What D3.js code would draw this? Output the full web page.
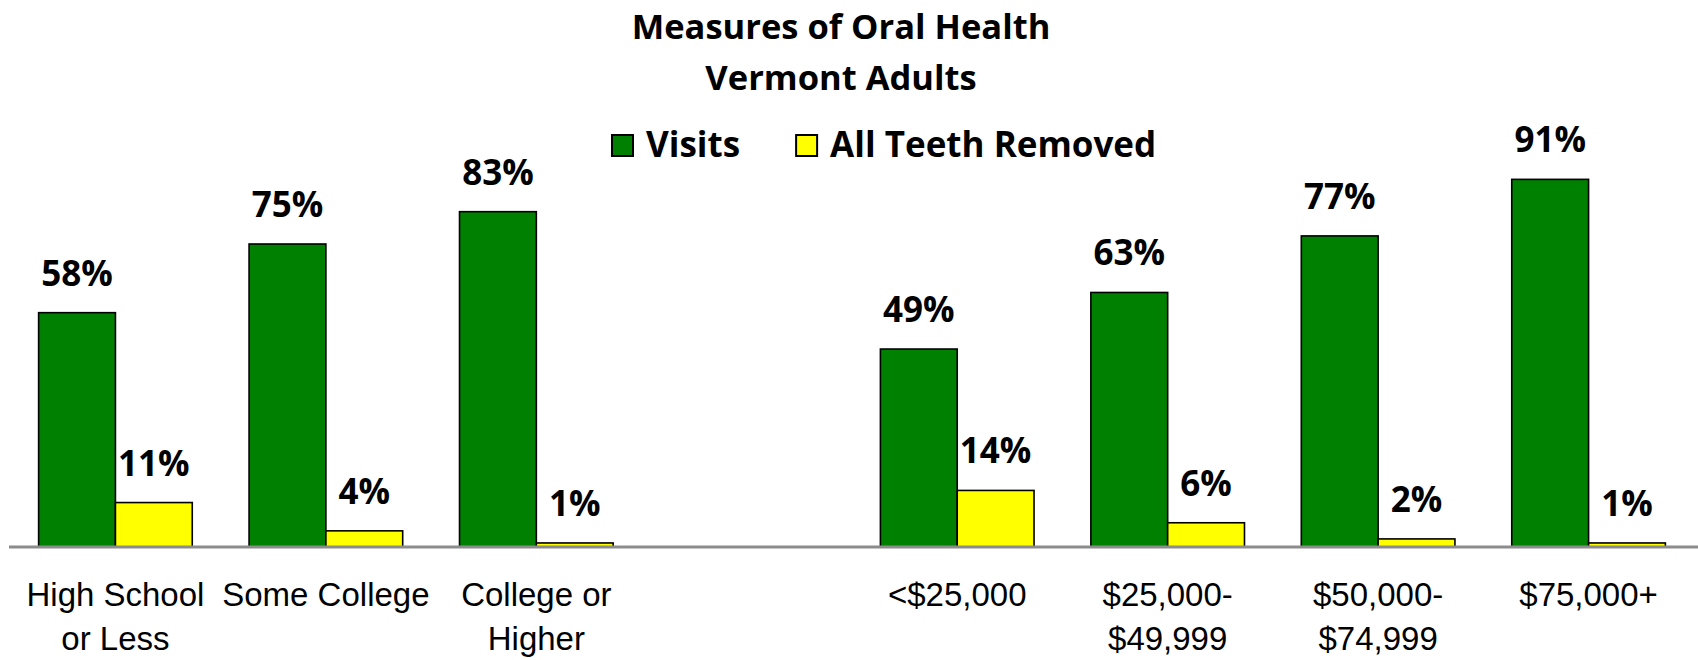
<!DOCTYPE html>
<html>
<head>
<meta charset="utf-8">
<script src="https://cdn.jsdelivr.net/npm/d3@7"></script>
<style>
  body { margin: 0; background: #fff; }
  svg { display: block; font-family: Lato, "Open Sans", sans-serif; }
  .bold { font-family: "Open Sans", Lato, sans-serif; font-weight: bold; }
</style>
</head>
<body>
<div id="target_area"></div>
<script>
// chart data
var titleLines = ["Measures of Oral Health", "Vermont Adults"];
var categories = ["hs", "some", "college", "gap", "inc1", "inc2", "inc3", "inc4"];
var tickLabels = [["High School", "or Less"], ["Some College"], ["College or", "Higher"], [],
                  ["<$25,000"], ["$25,000-", "$49,999"], ["$50,000-", "$74,999"], ["$75,000+"]];
var seriesNames = ["Visits", "All Teeth Removed"];
var seriesColors = ["#008000", "#ffff00"];
var visits = [58, 75, 83, null, 49, 63, 77, 91];
var teethRemoved = [11, 4, 1, null, 14, 6, 2, 1];

var width = 1698, height = 660;
var baseY = 547;

var svg = d3.select("#target_area")
  .append("svg")
  .attr("width", width)
  .attr("height", height);

var x0 = d3.scaleBand()
  .domain(categories)
  .range([6, width])
  .paddingInner(0.27)
  .paddingOuter(0.155);

var x1 = d3.scaleBand()
  .domain(seriesNames)
  .range([0, x0.bandwidth()]);

var y = d3.scaleLinear()
  .domain([0, 100])
  .range([baseY, baseY - 404]);

// title
svg.append("g").selectAll("text")
  .data(titleLines)
  .enter().append("text")
  .attr("class", "bold")
  .attr("x", 841)
  .attr("y", function (d, i) { return 39 + i * 51; })
  .attr("text-anchor", "middle")
  .style("font-size", "34.5px")
  .text(function (d) { return d; });

// bars
var rows = categories.map(function (c, i) {
  return {cat: c, values: [visits[i], teethRemoved[i]]};
}).filter(function (r) { return r.values[0] != null; });

var groups = svg.selectAll(".grp")
  .data(rows)
  .enter().append("g")
  .attr("class", "grp")
  .attr("transform", function (d) { return "translate(" + x0(d.cat) + ",0)"; });

var cells = groups.selectAll(".bar")
  .data(function (d) {
    return d.values.map(function (v, j) { return {name: seriesNames[j], value: v, color: seriesColors[j]}; });
  })
  .enter().append("g")
  .attr("class", "bar");

cells.append("rect")
  .attr("x", function (d) { return x1(d.name); })
  .attr("width", x1.bandwidth())
  .attr("y", function (d) { return y(d.value); })
  .attr("height", function (d) { return y(0) - y(d.value); })
  .style("fill", function (d) { return d.color; })
  .style("stroke", "#000")
  .style("stroke-width", 1.6);

cells.append("text")
  .attr("class", "bold")
  .attr("x", function (d) { return x1(d.name) + x1.bandwidth() / 2; })
  .attr("y", function (d) { return y(d.value) - 27; })
  .attr("text-anchor", "middle")
  .style("font-size", "35px")
  .text(function (d) { return d.value + "%"; });

// category axis
var axis = svg.append("g")
  .attr("transform", "translate(0," + baseY + ")")
  .call(d3.axisBottom(x0).tickSize(0).tickFormat(""));

axis.select(".domain")
  .attr("d", "M9,0H" + width)
  .style("stroke", "#8c8c8c")
  .style("stroke-width", 3);

axis.selectAll(".tick text").remove();
axis.selectAll(".tick").each(function (d, i) {
  var t = d3.select(this).append("text")
    .attr("fill", "#000")
    .attr("text-anchor", "middle")
    .style("font-size", "33px");
  tickLabels[i].forEach(function (line, k) {
    t.append("tspan").attr("x", 0).attr("y", 59 + k * 44).text(line);
  });
});

// legend
var legend = svg.append("g").attr("transform", "translate(612,0)");
var lx = 0;
seriesNames.forEach(function (name, i) {
  var item = legend.append("g").attr("transform", "translate(" + lx + ",0)");
  item.append("rect")
    .attr("x", 0).attr("y", 135)
    .attr("width", 21).attr("height", 21)
    .style("fill", seriesColors[i])
    .style("stroke", "#000")
    .style("stroke-width", 2);
  var txt = item.append("text")
    .attr("class", "bold")
    .attr("x", 34).attr("y", 157)
    .style("font-size", "35px")
    .text(name);
  lx += 34 + txt.node().getComputedTextLength() + 56;
});
</script>
</body>
</html>
